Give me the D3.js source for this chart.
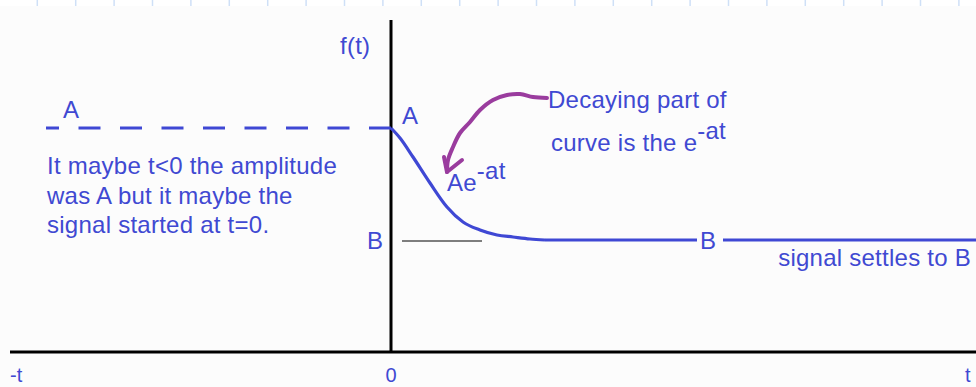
<!DOCTYPE html>
<html>
<head>
<meta charset="utf-8">
<script src="https://cdn.jsdelivr.net/npm/d3@7"></script>
<style>
  html, body { margin: 0; padding: 0; background: #fcfcfc; }
  svg { display: block; }
  text { font-family: "Liberation Sans", Arial, sans-serif; fill: #4049d2; letter-spacing: 0.25px; }
  .narrow { font-family: "Liberation Sans Narrow", "Liberation Sans", Arial, sans-serif; letter-spacing: 0; }
</style>
</head>
<body>
<div id="chart"></div>
<script>
"use strict";

// == DATA ==
var levelA = 2.24, levelB = 1.12;
var decayT = [0, 0.09, 0.22, 0.39, 0.56, 0.72, 0.89, 1.06, 1.22, 1.39, 1.54];
var decayF = [2.24, 2.14, 1.95, 1.69, 1.45, 1.30, 1.22, 1.17, 1.15, 1.13, 1.12];
var settledSegments = [[1.54, 3.06], [3.32, 5.85]];
var dashedRange = [-3.45, 0];
var refLineRange = [0.11, 0.91];
var arrowT = [1.56, 1.42, 1.29, 1.16, 1.02, 0.89, 0.79, 0.69, 0.62, 0.57, 0.56];
var arrowF = [2.54, 2.55, 2.58, 2.57, 2.52, 2.42, 2.30, 2.19, 2.05, 1.92, 1.80];
var arrowHeadT = [0.53, 0.56, 0.71];
var arrowHeadF = [1.95, 1.80, 1.92];
var axisLabels = ["-t", "0", "t"];
var noteLines = ["It maybe t<0 the amplitude", "was A but it maybe the", "signal started at t=0."];

// == BOILERPLATE ==
var W = 976, H = 387;
var svg = d3.select("#chart").append("svg")
    .attr("width", W).attr("height", H);

var x = d3.scaleLinear().domain([-3.8, 5.85]).range([11, 976]);
var y = d3.scaleLinear().domain([0, 3.32]).range([352, 20]);

var blue = "#3f48d4", purple = "#9a3c9e";

// top strip with faint ticks
svg.append("rect").attr("x", 0).attr("y", 0).attr("width", W).attr("height", 6).attr("fill", "#ffffff");
svg.selectAll(".topTick").data(d3.range(25)).enter().append("line")
    .attr("x1", function (i) { return 37.3 + i * 38.4; })
    .attr("x2", function (i) { return 37.3 + i * 38.4; })
    .attr("y1", 0).attr("y2", 6)
    .attr("stroke", "#cfe0f7").attr("stroke-width", 1.5);

// == AXES ==
svg.append("line")
    .attr("x1", x(-3.8) - 1).attr("x2", x(5.85))
    .attr("y1", y(0)).attr("y2", y(0))
    .attr("stroke", "#000").attr("stroke-width", 3);
svg.append("line")
    .attr("x1", x(0)).attr("x2", x(0))
    .attr("y1", y(3.32)).attr("y2", y(0))
    .attr("stroke", "#000").attr("stroke-width", 3);

svg.append("text").attr("x", x(0) - 51).attr("y", y(3.32) + 34)
    .attr("font-size", 24).text("f(t)");

var labelT = [-3.8, 0, 5.85];
svg.selectAll(".tl").data(axisLabels).enter().append("text")
    .attr("class", "narrow")
    .attr("x", function (d, i) { return x(labelT[i]) + [-1, 0, -11][i]; })
    .attr("y", y(0) + 30)
    .attr("text-anchor", function (d, i) { return i === 1 ? "middle" : "start"; })
    .attr("font-size", 20)
    .text(function (d) { return d; });

// == SHAPES ==
// dashed level A before t=0 (drawn from 0 leftwards)
svg.append("line")
    .attr("x1", x(dashedRange[1])).attr("x2", x(dashedRange[0]))
    .attr("y1", y(levelA)).attr("y2", y(levelA))
    .attr("stroke", blue).attr("stroke-width", 3.2)
    .attr("stroke-dasharray", "22,19.5");

// decay curve
var decay = decayT.map(function (t, i) { return [t, decayF[i]]; });
var line = d3.line()
    .x(function (d) { return x(d[0]); })
    .y(function (d) { return y(d[1]); })
    .curve(d3.curveMonotoneX);
svg.append("path").datum(decay)
    .attr("d", line)
    .attr("fill", "none").attr("stroke", blue).attr("stroke-width", 3.2);

// settled level B
svg.selectAll(".settle").data(settledSegments).enter().append("line")
    .attr("x1", function (d) { return x(d[0]); })
    .attr("x2", function (d) { return x(d[1]); })
    .attr("y1", y(levelB)).attr("y2", y(levelB))
    .attr("stroke", blue).attr("stroke-width", 3.2);

// thin reference line for B
svg.append("line")
    .attr("x1", x(refLineRange[0])).attr("x2", x(refLineRange[1]))
    .attr("y1", y(levelB) + 1).attr("y2", y(levelB) + 1)
    .attr("stroke", "#555").attr("stroke-width", 1.3);

// purple arrow
var arrow = arrowT.map(function (t, i) { return [t, arrowF[i]]; });
var arrowLine = d3.line()
    .x(function (d) { return x(d[0]); })
    .y(function (d) { return y(d[1]); })
    .curve(d3.curveCatmullRom);
svg.append("path").datum(arrow)
    .attr("d", arrowLine)
    .attr("fill", "none").attr("stroke", purple).attr("stroke-width", 4)
    .attr("stroke-linecap", "round");
var head = arrowHeadT.map(function (t, i) { return [t, arrowHeadF[i]]; });
svg.append("path").datum(head)
    .attr("d", d3.line().x(function (d) { return x(d[0]); }).y(function (d) { return y(d[1]); }))
    .attr("fill", "none").attr("stroke", purple).attr("stroke-width", 4)
    .attr("stroke-linecap", "round").attr("stroke-linejoin", "round");

// == TEXT ==
svg.append("text").attr("x", x(-3.8) + 52).attr("y", y(levelA) - 10).attr("font-size", 24).text("A");
svg.append("text").attr("x", x(0) + 11).attr("y", y(levelA) - 4).attr("font-size", 24).text("A");
svg.append("text").attr("x", x(0) - 24).attr("y", y(levelB) + 9).attr("font-size", 24).text("B");
svg.append("text").attr("x", 700).attr("y", y(levelB) + 9).attr("font-size", 24).text("B");
svg.append("text").attr("x", 971).attr("y", y(levelB) + 26).attr("text-anchor", "end")
    .attr("font-size", 24).text("signal settles to B");

svg.selectAll(".note").data(noteLines).enter().append("text")
    .attr("x", 47).attr("y", function (d, i) { return 174 + i * 29.5; })
    .attr("font-size", 24).text(function (d) { return d; });

svg.append("text").attr("x", 548).attr("y", 108).attr("font-size", 24).text("Decaying part of");
var t2 = svg.append("text").attr("x", 551).attr("y", 151).attr("font-size", 24);
t2.append("tspan").text("curve is the e");
t2.append("tspan").attr("dy", -12).text("-at");

var t3 = svg.append("text").attr("x", 447).attr("y", 191).attr("font-size", 24);
t3.append("tspan").text("Ae");
t3.append("tspan").attr("dy", -12).text("-at");
</script>
</body>
</html>
